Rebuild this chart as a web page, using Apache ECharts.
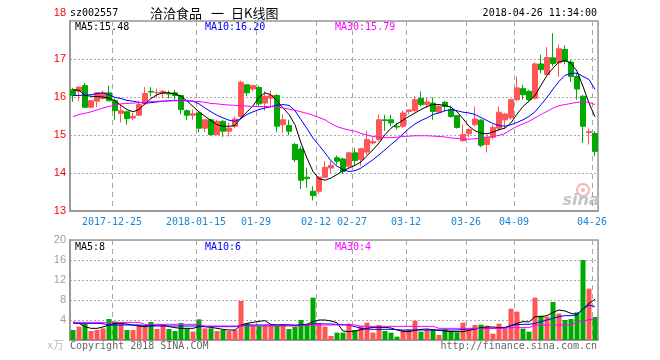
<!DOCTYPE html>
<html><head><meta charset="utf-8">
<script src="https://cdn.jsdelivr.net/npm/echarts@6/dist/echarts.min.js"></script>
<style>html,body{margin:0;padding:0;background:#fff}#c{width:660px;height:360px}</style>
</head><body><div id="c"></div>
<script>
const dates = [
'2017-12-14','2017-12-15','2017-12-18','2017-12-19','2017-12-20','2017-12-21','2017-12-22','2017-12-25','2017-12-26','2017-12-27','2017-12-28','2017-12-29',
'2018-01-02','2018-01-03','2018-01-04','2018-01-05','2018-01-08','2018-01-09','2018-01-10','2018-01-11','2018-01-12','2018-01-15','2018-01-16','2018-01-17','2018-01-18','2018-01-19','2018-01-22','2018-01-23','2018-01-24','2018-01-25','2018-01-26','2018-01-29','2018-01-30','2018-01-31',
'2018-02-01','2018-02-02','2018-02-05','2018-02-06','2018-02-07','2018-02-08','2018-02-09','2018-02-12','2018-02-13','2018-02-14','2018-02-22','2018-02-23','2018-02-26','2018-02-27','2018-02-28',
'2018-03-01','2018-03-02','2018-03-05','2018-03-06','2018-03-07','2018-03-08','2018-03-09','2018-03-12','2018-03-13','2018-03-14','2018-03-15','2018-03-16','2018-03-19','2018-03-20','2018-03-21','2018-03-22','2018-03-23','2018-03-26','2018-03-27','2018-03-28','2018-03-29','2018-03-30',
'2018-04-02','2018-04-03','2018-04-04','2018-04-09','2018-04-10','2018-04-11','2018-04-12','2018-04-13','2018-04-16','2018-04-17','2018-04-18','2018-04-19','2018-04-20','2018-04-23','2018-04-24','2018-04-25','2018-04-26'
];
const tickDates = ['2017-12-25','2018-01-15','2018-01-29','2018-02-12','2018-02-27','2018-03-12','2018-03-26','2018-04-09','2018-04-26'];
const tickText  = ['2017-12-25','2018-01-15','01-29','02-12','02-27','03-12','03-26','04-09','04-26'];

const open = [16.19,16.15,16.30,15.73,15.89,15.96,16.11,15.90,15.57,15.61,
15.45,15.52,15.82,16.15,16.11,16.09,16.10,16.11,16.04,15.64,
15.52,15.58,15.18,15.40,15.01,15.36,15.10,15.23,15.49,16.32,
16.21,16.25,15.84,15.97,16.04,15.27,15.25,14.75,14.63,13.89,
13.52,13.52,13.89,14.13,14.40,14.37,14.18,14.53,14.35,14.55,
14.79,14.88,15.40,15.40,15.23,15.23,15.62,15.64,15.96,15.80,
15.84,15.60,15.86,15.67,15.51,14.85,15.03,15.27,15.39,14.75,
14.94,15.18,15.40,15.45,15.93,16.22,16.15,15.97,16.87,16.59,
17.03,16.90,17.25,16.92,16.54,16.02,15.06,15.04];
const close = [16.04,16.26,15.73,15.90,16.11,16.11,15.90,15.64,15.64,15.43,
15.49,15.80,16.09,16.13,16.12,16.15,16.08,16.04,15.67,15.52,
15.56,15.18,15.40,15.01,15.36,15.10,15.18,15.42,16.39,16.11,
16.30,15.82,16.02,16.04,15.23,15.40,15.10,14.35,13.81,13.85,
13.41,13.89,14.15,14.20,14.31,14.04,14.53,14.33,14.64,14.88,
14.83,15.40,15.38,15.32,15.21,15.58,15.66,15.93,15.80,15.87,
15.62,15.75,15.75,15.49,15.20,15.01,15.14,15.42,14.73,14.94,
15.20,15.60,15.55,15.93,16.24,16.06,15.93,16.87,16.72,17.04,
16.88,17.27,16.94,16.54,16.21,15.23,15.09,14.57];
const low = [15.87,15.89,15.71,15.71,15.73,15.93,15.89,15.40,15.33,15.27,
15.39,15.50,15.80,16.02,15.99,15.97,15.96,15.93,15.54,15.40,
15.40,15.08,15.08,14.98,14.99,14.95,14.96,15.18,15.45,16.02,
16.15,15.75,15.64,15.71,15.08,15.05,14.99,14.29,13.58,13.61,
13.28,13.45,13.87,14.00,14.22,13.97,14.13,14.18,14.18,14.48,
14.75,14.83,15.11,15.23,15.14,15.18,15.55,15.60,15.75,15.71,
15.40,15.58,15.62,15.45,15.17,14.82,14.94,15.23,14.68,14.54,
14.88,15.10,15.18,15.40,15.89,15.93,15.90,15.93,16.63,16.59,
16.81,16.53,16.86,16.40,15.93,14.79,14.75,14.44];
const high = [16.24,16.28,16.37,15.92,16.12,16.17,16.30,15.96,15.80,15.64,
15.58,15.89,16.26,16.26,16.22,16.18,16.17,16.18,16.06,15.67,
15.67,15.62,15.42,15.42,15.40,15.39,15.32,15.49,16.43,16.34,
16.32,16.30,16.15,16.17,16.08,15.54,15.40,14.79,14.70,14.13,
13.65,13.91,14.31,14.31,14.46,14.40,14.54,14.66,14.66,15.10,
14.94,15.54,15.53,15.53,15.32,15.64,15.67,16.02,16.15,15.99,
15.99,15.80,15.90,15.77,15.51,15.27,15.18,15.75,15.42,15.01,
15.27,15.75,15.58,15.96,16.54,16.32,16.19,16.92,17.11,17.31,
17.68,17.38,17.36,16.98,16.63,16.06,15.17,15.10];

const ma5 = [16.19,16.18,16.04,16.02,16.01,16.00,15.97,15.90,15.78,15.67,
15.61,15.67,15.82,15.96,16.06,16.11,16.11,16.08,16.02,15.90,
15.75,15.61,15.49,15.38,15.27,15.23,15.23,15.25,15.45,15.61,
15.77,15.99,16.11,16.06,15.90,15.71,15.54,15.27,14.79,14.39,
14.04,13.85,13.81,13.87,13.96,14.06,14.13,14.20,14.29,14.46,
14.61,14.79,15.01,15.18,15.29,15.39,15.49,15.58,15.67,15.75,
15.80,15.80,15.78,15.73,15.61,15.43,15.23,15.11,15.05,15.03,
15.08,15.14,15.18,15.32,15.55,15.75,15.89,16.04,16.31,16.57,
16.76,16.92,16.96,16.89,16.68,16.28,15.84,15.48];
const ma10 = [16.04,16.04,16.05,16.06,16.09,16.11,16.06,15.99,15.96,15.91,
15.89,15.86,15.84,15.85,15.87,15.89,15.90,15.91,15.91,15.90,
15.89,15.82,15.71,15.61,15.52,15.45,15.39,15.36,15.43,15.54,
15.61,15.67,15.71,15.75,15.78,15.80,15.78,15.64,15.40,15.17,
14.92,14.73,14.53,14.32,14.18,14.09,14.04,14.06,14.13,14.24,
14.35,14.48,14.61,14.75,14.88,15.03,15.17,15.29,15.38,15.45,
15.54,15.58,15.64,15.67,15.64,15.60,15.58,15.54,15.46,15.38,
15.30,15.25,15.23,15.27,15.33,15.40,15.49,15.61,15.80,15.99,
16.21,16.41,16.57,16.62,16.63,16.54,16.46,16.20];
const ma30 = [15.48,15.54,15.57,15.61,15.66,15.71,15.75,15.79,15.82,15.83,
15.84,15.85,15.86,15.88,15.89,15.89,15.90,15.90,15.90,15.90,
15.89,15.88,15.86,15.83,15.82,15.80,15.79,15.78,15.77,15.76,
15.75,15.75,15.75,15.75,15.74,15.71,15.68,15.65,15.61,15.57,
15.52,15.46,15.40,15.30,15.22,15.17,15.13,15.10,15.04,15.00,
14.96,14.94,14.93,14.93,14.94,14.96,14.97,14.98,14.98,14.98,
14.97,14.96,14.95,14.92,14.91,14.89,14.89,14.90,14.92,14.94,
14.96,14.99,15.04,15.14,15.23,15.29,15.36,15.45,15.54,15.62,
15.71,15.77,15.80,15.83,15.86,15.87,15.86,15.80];

const volume = [2.0,2.67,3.2,1.8,2.0,2.33,4.2,3.67,3.47,2.0,
2.0,3.0,2.67,3.6,2.2,3.0,2.2,1.8,3.4,2.33,
1.67,4.13,2.33,2.33,1.8,2.0,1.8,2.0,7.8,3.33,
3.0,2.87,3.0,3.0,2.87,3.13,2.2,2.6,4.0,3.27,
8.47,3.2,2.67,0.8,1.47,1.47,3.27,2.0,2.87,3.47,
1.47,3.0,1.8,1.47,0.67,1.93,2.13,3.87,1.67,2.0,
2.0,1.0,2.13,1.67,1.53,3.47,2.13,3.0,3.07,2.87,
1.27,3.27,2.2,6.27,5.67,2.27,1.67,8.47,4.87,4.67,
7.6,5.27,4.0,4.2,5.53,16.0,10.27,4.6];
const volMa5 = [3.6,3.33,2.67,2.33,2.33,2.6,3.0,3.33,3.33,3.2,
3.0,2.8,2.67,2.87,3.0,3.0,2.67,2.47,2.33,2.33,
2.33,2.67,2.67,2.53,2.33,2.13,2.0,2.0,3.0,3.33,
3.53,3.73,3.87,3.07,3.0,3.0,3.0,2.87,3.0,3.13,
3.67,4.0,4.0,3.8,3.47,1.8,1.67,1.8,2.07,2.33,
2.53,2.53,2.53,2.4,2.0,1.73,1.67,1.93,2.13,2.2,
2.07,1.93,1.8,1.67,1.67,1.67,1.93,2.2,2.47,2.6,
2.6,2.47,2.53,2.87,3.33,3.67,3.6,4.67,4.67,4.87,
5.53,6.0,5.8,5.33,5.13,6.2,7.33,8.12];
const volMa10 = [3.33,3.33,3.33,3.33,3.33,3.27,3.0,3.0,3.0,3.0,
3.0,3.0,2.93,2.8,2.8,2.8,2.8,2.8,2.8,2.8,
2.8,2.8,2.67,2.67,2.67,2.67,2.67,2.67,2.87,3.0,
3.0,3.0,3.0,3.0,3.0,3.0,3.0,3.0,3.0,3.0,
3.2,3.27,3.2,3.2,3.13,3.07,3.0,2.67,2.33,2.2,
2.13,2.13,2.13,2.13,2.07,2.0,2.0,2.0,2.0,2.0,
2.0,2.0,2.0,2.0,2.0,2.13,2.2,2.27,2.33,2.33,
2.33,2.33,2.4,2.87,3.07,3.13,3.13,3.33,3.67,4.0,
4.33,4.67,4.87,4.87,5.0,6.2,7.0,6.7];
const volMa30 = [3.53,3.53,3.53,3.53,3.53,3.53,3.53,3.53,3.53,3.53,
3.53,3.53,3.13,3.13,3.13,3.13,3.13,3.13,3.13,3.13,
3.13,3.13,2.8,2.8,2.8,2.8,2.8,2.8,2.8,2.8,
2.8,2.8,2.8,2.8,2.8,2.8,2.8,2.8,2.8,3.0,
3.0,3.0,3.0,3.0,3.0,3.0,3.0,3.0,2.73,2.73,
2.73,2.73,2.73,2.73,2.73,2.73,2.73,2.73,2.73,2.73,
2.73,2.33,2.33,2.33,2.33,2.33,2.33,2.33,2.33,2.33,
2.33,2.33,2.33,2.47,2.47,2.47,2.47,3.0,3.0,3.0,
3.0,3.0,3.0,3.0,3.6,3.75,4.1,4.13];

const UP = '#ff5555', DOWN = '#00a800';
const MONO = '"DejaVu Sans Mono", "Liberation Mono", monospace';
const CJK = '"Noto Sans CJK SC", sans-serif';
const GRIDC = '#a8a8a8', AXISC = '#999999';

const candleData = dates.map((d, i) => [open[i], close[i], low[i], high[i]]);
const volData = volume.map((v, i) => ({ value: v, itemStyle: { color: close[i] >= open[i] ? UP : DOWN } }));
const isTick = (i) => tickDates.indexOf(dates[i]) >= 0;

const chart = echarts.init(document.getElementById('c'), null, { renderer: 'canvas' });

function lineS(data, color, xi) {
  return { type: 'line', data: data, xAxisIndex: xi, yAxisIndex: xi, symbol: 'none', silent: true,
    lineStyle: { color: color, width: 1 }, z: 3 };
}
function txt(x, y, s, color, extra) {
  return Object.assign({ type: 'text', x: x, y: y, silent: true,
    style: Object.assign({ text: s, fill: color, font: '10px ' + MONO, textVerticalAlign: 'middle' }, extra || {}) });
}
function cjk(x, y, s) {
  return { type: 'text', x: x, y: y, silent: true, style: { text: s, fill: '#000', font: '13px ' + CJK, textVerticalAlign: 'middle' } };
}

chart.setOption({
  animation: false,
  backgroundColor: '#ffffff',
  grid: [
    { left: 70, top: 21, width: 528, height: 190, show: true, borderColor: AXISC, borderWidth: 1.5, backgroundColor: 'transparent' },
    { left: 70, top: 240, width: 528, height: 100, show: true, borderColor: AXISC, borderWidth: 1.5, backgroundColor: 'transparent' }
  ],
  xAxis: [
    { type: 'category', gridIndex: 0, data: dates, boundaryGap: true,
      axisLine: { lineStyle: { color: AXISC, width: 2 } }, axisTick: { show: false },
      axisLabel: { interval: (i) => isTick(i), color: '#1c86d1', fontFamily: MONO, fontSize: 10, margin: 6,
        padding: [0, 6, 0, 0], formatter: (v) => tickText[tickDates.indexOf(v)] },
      splitLine: { show: true, interval: (i) => isTick(i), lineStyle: { color: GRIDC, type: [5, 4], width: 1 } } },
    { type: 'category', gridIndex: 1, data: dates, boundaryGap: true,
      axisLine: { lineStyle: { color: AXISC, width: 2 } }, axisTick: { show: false }, axisLabel: { show: false },
      splitLine: { show: true, interval: (i) => isTick(i), lineStyle: { color: GRIDC, type: [5, 4], width: 1 } } }
  ],
  yAxis: [
    { type: 'value', gridIndex: 0, min: 13, max: 18, interval: 1,
      axisLine: { show: true, lineStyle: { color: AXISC, width: 2 } }, axisTick: { show: false },
      axisLabel: { margin: 4, formatter: (v) => v === 18 ? '{t|18}' : '{n|' + v + '}',
        rich: { n: { color: '#ff0000', fontSize: 11, fontFamily: '"Liberation Sans", Arial, sans-serif' },
                t: { color: '#ff0000', fontSize: 11, fontFamily: '"Liberation Sans", Arial, sans-serif', padding: [0, 0, 16, 0] } } },
      splitLine: { show: true, lineStyle: { color: GRIDC, type: [2, 2], width: 1 } } },
    { type: 'value', gridIndex: 1, min: 0, max: 20, interval: 4,
      axisLine: { show: true, lineStyle: { color: AXISC, width: 2 } }, axisTick: { show: false },
      axisLabel: { margin: 4, color: '#a0a0a0', fontSize: 11, fontFamily: '"Liberation Sans", Arial, sans-serif',
        formatter: (v) => v === 0 ? '' : String(v) },
      splitLine: { show: true, lineStyle: { color: GRIDC, type: [2, 2], width: 1 } } }
  ],
  series: [
    { type: 'candlestick', xAxisIndex: 0, yAxisIndex: 0, data: candleData, barWidth: 5, silent: true,
      itemStyle: { color: UP, color0: DOWN, borderColor: UP, borderColor0: DOWN, borderWidth: 1 } },
    lineS(ma5, '#000000', 0), lineS(ma10, '#0000ff', 0), lineS(ma30, '#ff00ff', 0),
    { type: 'bar', xAxisIndex: 1, yAxisIndex: 1, data: volData, barWidth: 5, silent: true },
    lineS(volMa5, '#000000', 1), lineS(volMa10, '#0000ff', 1), lineS(volMa30, '#ff00ff', 1)
  ],
  graphic: [
    txt(70, 13, 'sz002557', '#000'),
    cjk(150, 13, '洽洽食品'),
    cjk(211, 13, '一'),
    cjk(231, 13, '日K线图'),
    txt(597, 13, '2018-04-26 11:34:00', '#000', { textAlign: 'right' }),
    txt(75, 27, 'MA5:15.48', '#000'),
    txt(205, 27, 'MA10:16.20', '#0000ff'),
    txt(335, 27, 'MA30:15.79', '#ff00ff'),
    txt(75, 247, 'MA5:8', '#000'),
    txt(205, 247, 'MA10:6', '#0000ff'),
    txt(335, 247, 'MA30:4', '#ff00ff'),
    { type: 'text', x: 64, y: 345, silent: true, style: { text: 'x万', fill: '#bbbbbb',
      font: '11px ' + CJK, textAlign: 'right', textVerticalAlign: 'middle' } },
    txt(70, 346, 'Copyright 2018 SINA.COM', '#666'),
    txt(597, 346, 'http://finance.sina.com.cn', '#666', { textAlign: 'right' }),
    { type: 'circle', silent: true, shape: { cx: 583, cy: 190, r: 6 }, style: { fill: 'none', stroke: '#f3b5b5', lineWidth: 2 } },
    { type: 'circle', silent: true, shape: { cx: 583, cy: 190, r: 2 }, style: { fill: '#f3b5b5' } },
    { type: 'text', x: 581, y: 201, silent: true, style: { text: 'sina', fill: '#c4c4c4',
      font: 'italic bold 16px "DejaVu Sans", sans-serif', textAlign: 'center', textVerticalAlign: 'middle' } }
  ]
});
</script></body></html>
